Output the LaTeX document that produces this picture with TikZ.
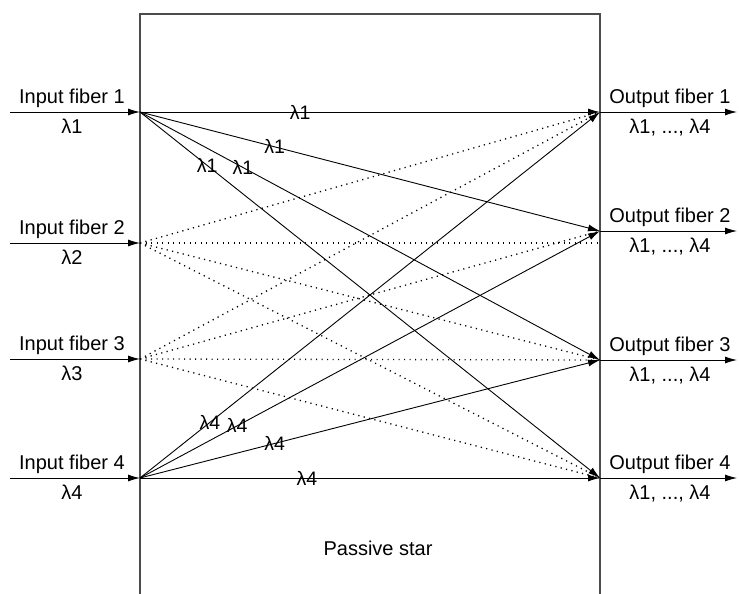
\documentclass[tikz,border=0pt]{standalone}
\usepackage{fontspec}
\setmainfont{Liberation Sans}
\usetikzlibrary{arrows.meta}

\begin{document}
\begin{tikzpicture}[x=1pt,y=-1pt,
    fib/.style={line width=0.9pt,-{Latex[length=12pt,width=7pt]}},
    leak/.style={line width=1.3pt,dash pattern=on 1.2pt off 4.3pt},
    lab/.style={font=\fontsize{20}{23}\selectfont,anchor=base},
    wl/.style={font=\fontsize{19.5}{22}\selectfont,inner sep=0pt}]
  \useasboundingbox (0,0) rectangle (739,594);
  % the star coupler
  \draw[line width=1.4pt,black!70] (140,594) -- (140,14) -- (600,14) -- (600,594);
  \node[lab,anchor=center] (star) at (378,548) {Passive star};
  % input side
  \foreach \i/\y in {1/112,2/243,3/359,4/478}{
    \coordinate (src\i) at (10,\y);
    \coordinate (in\i) at (140,\y);
    \draw[fib] (src\i) -- (in\i);
    \node[lab] (inname\i) at (72,\y-9) {Input fiber \i};
    \node[lab] (inwl\i) at (72,\y+21) {λ\i};
  }
  % output side
  \foreach \i/\y in {1/112,2/231,3/360,4/478}{
    \coordinate (out\i) at (600,\y);
    \coordinate (dst\i) at (737,\y);
    \draw[fib] (out\i) -- (dst\i);
    \node[lab] (outname\i) at (670,\y-9) {Output fiber \i};
    \node[lab] (outwl\i) at (670,\y+21) {λ1, ..., λ4};
  }
  % broadcast of lambda 1 and lambda 4
  \foreach \j/\p in {1/.348,2/.293,3/.224,4/.146}
    \draw[fib] (in1) -- node[wl,pos=\p] (wa\j) {λ1} (out\j);
  \foreach \j/\p in {1/.152,2/.211,3/.293,4/.363}
    \draw[fib] (in4) -- node[wl,pos=\p] (wd\j) {λ4} (out\j);
  % lambda 2 and lambda 3
  \foreach \j in {1,3,4}
    \draw[leak] (in2) -- (out\j);
  \draw[leak] (in2) -- (in2 -| out2);
  \foreach \j in {1,2,3,4}
    \draw[leak] (in3) -- (out\j);
\end{tikzpicture}
\end{document}
